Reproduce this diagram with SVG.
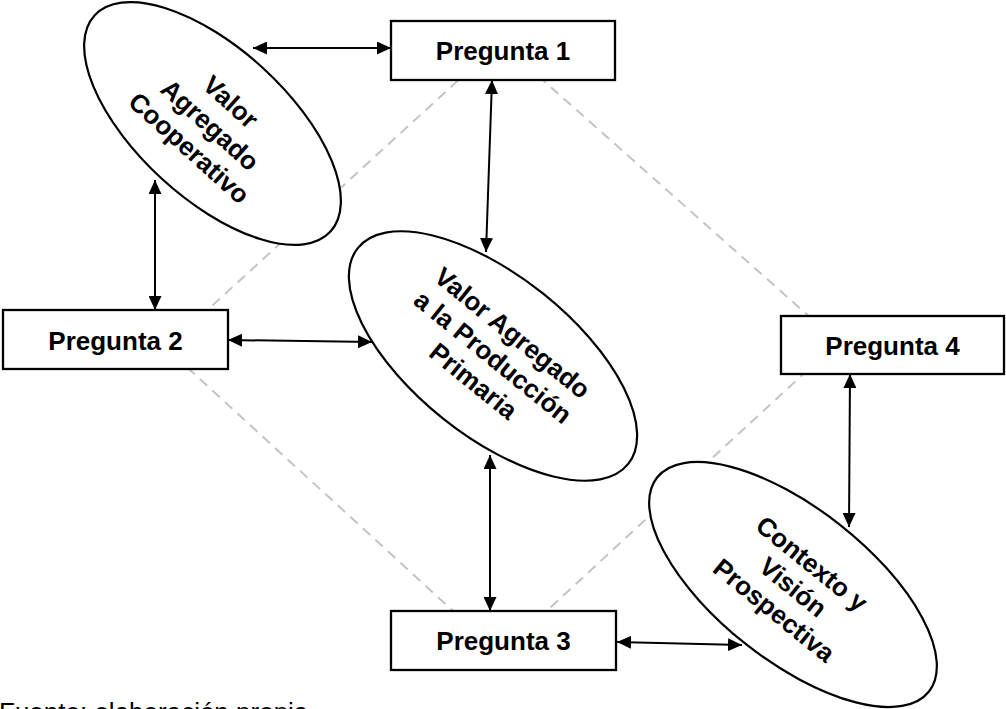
<svg xmlns="http://www.w3.org/2000/svg" width="1006" height="709" viewBox="0 0 1006 709">
<style>
.box{fill:#fff;stroke:#000;stroke-width:2.3}
.ell{fill:#fff;stroke:#000;stroke-width:2.2}
.lbl{font-family:"Liberation Sans",Arial,sans-serif;font-weight:bold;font-size:26px;fill:#000;text-anchor:middle}
.con{stroke:#000;stroke-width:2;fill:none;marker-start:url(#ah);marker-end:url(#ah)}
.dash{stroke:#c4c4c4;stroke-width:2;fill:none;stroke-dasharray:10 7}
.note{font-family:"Liberation Sans",Arial,sans-serif;font-size:26px;fill:#000}
</style>
<defs>
<marker id="ah" viewBox="0 0 14 13" refX="14" refY="6.5" markerWidth="14" markerHeight="13" markerUnits="userSpaceOnUse" orient="auto-start-reverse">
<path d="M0,0 L14,6.5 L0,13 z" fill="#000"/>
</marker>
</defs>
<rect width="1006" height="709" fill="#fff"/>
<g id="guide">
<polygon class="dash" points="500,42 838,342 500,654 166,348"/>
</g>
<g id="connectors">
<line class="con" x1="253" y1="48" x2="391" y2="48"/>
<line class="con" x1="155" y1="180" x2="155" y2="310"/>
<line class="con" x1="492" y1="80" x2="486" y2="252"/>
<line class="con" x1="228" y1="340" x2="372" y2="342"/>
<line class="con" x1="490" y1="455" x2="490" y2="611"/>
<line class="con" x1="617" y1="642" x2="742" y2="645"/>
<line class="con" x1="850" y1="374" x2="849" y2="527"/>
</g>
<g id="ellipse-cooperativo">
<ellipse class="ell" cx="0" cy="0" rx="160" ry="75" transform="translate(212.5,123.5) rotate(42.5)"/>
<g transform="translate(210,125) rotate(42)">
<text class="lbl" x="0" y="-22">Valor</text>
<text class="lbl" x="0" y="9">Agregado</text>
<text class="lbl" x="0" y="40">Cooperativo</text>
</g>
</g>
<g id="ellipse-produccion">
<ellipse class="ell" cx="0" cy="0" rx="173" ry="80" transform="translate(493,356) rotate(38.6)"/>
<g transform="translate(493,357) rotate(39)">
<text class="lbl" x="0" y="-22">Valor Agregado</text>
<text class="lbl" x="0" y="9">a la Producción</text>
<text class="lbl" x="0" y="40">Primaria</text>
</g>
</g>
<g id="ellipse-contexto">
<ellipse class="ell" cx="0" cy="0" rx="173" ry="76" transform="translate(793,584.5) rotate(38.2)"/>
<g transform="translate(793,587) rotate(39)">
<text class="lbl" x="0" y="-21">Contexto y</text>
<text class="lbl" x="0" y="9">Visión</text>
<text class="lbl" x="0" y="39">Prospectiva</text>
</g>
</g>
<g id="pregunta1">
<rect class="box" x="391" y="21" width="224" height="59"/>
<text class="lbl" x="503" y="60">Pregunta 1</text>
</g>
<g id="pregunta2">
<rect class="box" x="3" y="310" width="225" height="59"/>
<text class="lbl" x="115.5" y="350">Pregunta 2</text>
</g>
<g id="pregunta3">
<rect class="box" x="391" y="611" width="225" height="59"/>
<text class="lbl" x="503.5" y="650">Pregunta 3</text>
</g>
<g id="pregunta4">
<rect class="box" x="781" y="316" width="223" height="58"/>
<text class="lbl" x="892.5" y="355">Pregunta 4</text>
</g>
<text class="note" x="-1" y="721">Fuente: elaboración propia</text>
</svg>
